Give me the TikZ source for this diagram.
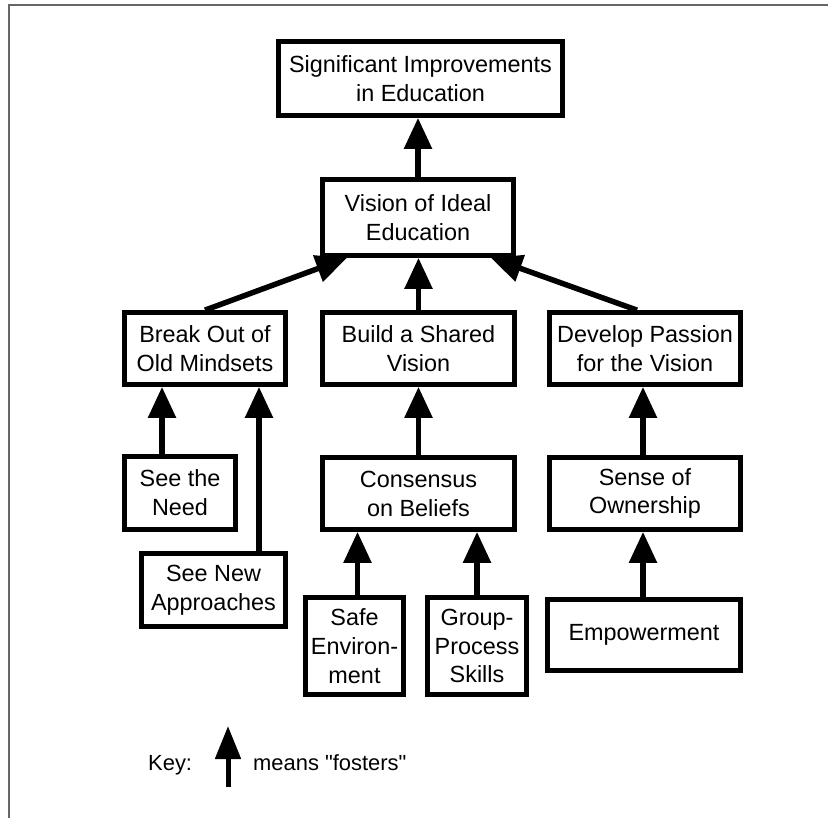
\documentclass[tikz,border=0pt]{standalone}
\usepackage{fontspec}
\setmainfont{Liberation Sans}[Ligatures=TeXOff]
\usetikzlibrary{arrows.meta,calc}
\begin{document}
\begin{tikzpicture}[x=1bp,y=1bp,
  box/.style 2 args={draw, line width=5bp, minimum width=#1, minimum height=#2,
    inner sep=0pt, align=center, font=\fontsize{23.5}{29}\selectfont},
  arr/.style={line width=5.5bp, -{Triangle[length=31bp,width=27bp]}},
  keyarr/.style={line width=5bp, -{Triangle[length=33bp,width=25bp]}},
  lbl/.style={font=\fontsize{22}{26}\selectfont, inner sep=0pt, anchor=base west},
  frame/.style={draw=black!60, line width=1.5bp}]
\useasboundingbox (0,0) rectangle (828,-818);
\draw[frame] (9,-818) -- (9,-5) -- (828,-5);

\node[box={286}{74}] (top) at (420.5,-78.5) {Significant Improvements\\in Education};
\node[box={191}{76}] (vision) at (418,-217.5) {Vision of Ideal\\Education};
\node[box={161}{72}] (break) at (205,-348.5) {Break Out of\\Old Mindsets};
\node[box={192}{72}] (build) at (418.5,-348.5) {Build a Shared\\Vision};
\node[box={191}{72}] (develop) at (645,-348.5) {Develop Passion\\for the Vision};
\node[box={111}{73}] (need) at (180,-493) {See the\\Need};
\node[box={192}{72}] (consensus) at (418.5,-493.5) {Consensus\\on Beliefs};
\node[box={191}{72}] (sense) at (645,-493.5) {Sense of\\Ownership};
\node[box={144}{73}] (approaches) at (213.5,-590) {See New\\Approaches};
\node[box={98}{97}] (safe) at (354.5,-646) {Safe\\Environ-\\ment};
\node[box={99}{97}] (group) at (477,-646) {Group-\\Process\\Skills};
\node[box={193}{71}] (empower) at (644,-635) {Empowerment};

\draw[arr] (vision.north) -- (vision.north |- top.south);
\draw[arr] (build.north) -- (build.north |- vision.south);
\draw[arr] (break.north) -- ($(vision.south)+(-71,0)$);
\draw[arr] ($(develop.north)+(-8,0)$) -- ($(vision.south)+(73,0)$);
\draw[arr] (need.north) ++(-18,0) coordinate (n1) -- (n1 |- break.south);
\draw[arr] (approaches.north) ++(45.5,0) coordinate (a1) -- (a1 |- break.south);
\draw[arr] (consensus.north) -- (consensus.north |- build.south);
\draw[arr] (sense.north) ++(-2,0) coordinate (s1) -- (s1 |- develop.south);
\draw[arr] (safe.north) ++(3,0) coordinate (sf1) -- (sf1 |- consensus.south);
\draw[arr] (group.north) -- (group.north |- consensus.south);
\draw[arr] (empower.north) ++(-1,0) coordinate (e1) -- (e1 |- sense.south);

\node[lbl] (key) at (148,-770) {Key:};
\coordinate (k1) at (228,-787);
\coordinate (k2) at (228,-726);
\draw[keyarr] (k1) -- (k2);
\node[lbl] (means) at (253,-770) {means "fosters"};
\end{tikzpicture}
\end{document}
